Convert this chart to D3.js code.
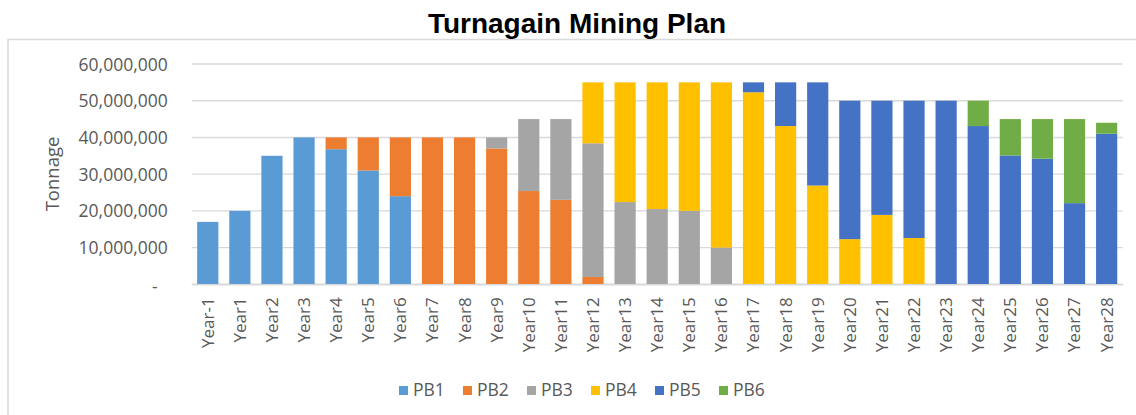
<!DOCTYPE html>
<html>
<head>
<meta charset="utf-8">
<script src="https://cdn.jsdelivr.net/npm/d3@7"></script>
<style>
  body { margin: 0; background: #fff; }
  svg text { font-family: "Open Sans", "Liberation Sans", sans-serif; }
</style>
</head>
<body>
<div id="chart"></div>
<script>
'use strict';

// years along the x axis
var years = ["Year-1", "Year1", "Year2", "Year3", "Year4", "Year5", "Year6", "Year7", "Year8", "Year9",
    "Year10", "Year11", "Year12", "Year13", "Year14", "Year15", "Year16", "Year17", "Year18", "Year19",
    "Year20", "Year21", "Year22", "Year23", "Year24", "Year25", "Year26", "Year27", "Year28"];

// tonnage per pit phase
var pb1 = [17000000, 20000000, 35000000, 40000000, 36800000, 31000000, 24000000, 0, 0, 0,
    0, 0, 0, 0, 0, 0, 0, 0, 0, 0, 0, 0, 0, 0, 0, 0, 0, 0, 0];
var pb2 = [0, 0, 0, 0, 3200000, 9000000, 16000000, 40000000, 40000000, 37000000,
    25400000, 23000000, 2000000, 0, 0, 0, 0, 0, 0, 0, 0, 0, 0, 0, 0, 0, 0, 0, 0];
var pb3 = [0, 0, 0, 0, 0, 0, 0, 0, 0, 3000000,
    19600000, 22000000, 36400000, 22400000, 20500000, 20000000, 10000000, 0, 0, 0,
    0, 0, 0, 0, 0, 0, 0, 0, 0];
var pb4 = [0, 0, 0, 0, 0, 0, 0, 0, 0, 0,
    0, 0, 16600000, 32600000, 34500000, 35000000, 45000000, 52300000, 43100000, 26900000,
    12300000, 18900000, 12600000, 0, 0, 0, 0, 0, 0];
var pb5 = [0, 0, 0, 0, 0, 0, 0, 0, 0, 0,
    0, 0, 0, 0, 0, 0, 0, 2700000, 11900000, 28100000,
    37700000, 31100000, 37400000, 50000000, 43100000, 35100000, 34200000, 22100000, 41000000];
var pb6 = [0, 0, 0, 0, 0, 0, 0, 0, 0, 0,
    0, 0, 0, 0, 0, 0, 0, 0, 0, 0,
    0, 0, 0, 0, 6900000, 9900000, 10800000, 22900000, 3000000];

var seriesNames = ["PB1", "PB2", "PB3", "PB4", "PB5", "PB6"];
var seriesColors = ["#5B9BD5", "#ED7D31", "#A5A5A5", "#FFC000", "#4472C4", "#70AD47"];
var yTicks = [0, 10000000, 20000000, 30000000, 40000000, 50000000, 60000000];

var width = 1136, height = 415;
var plot = {left: 191.7, right: 1122.7, top: 64, bottom: 284.3};

// build rows for d3.stack
var series = [pb1, pb2, pb3, pb4, pb5, pb6];
var rows = years.map(function(y, i) {
    var r = {year: y};
    seriesNames.forEach(function(n, k) { r[n] = series[k][i]; });
    return r;
});
var stacked = d3.stack().keys(seriesNames)(rows);

var svg = d3.select("#chart").append("svg")
    .attr("width", width)
    .attr("height", height);

// chart frame (only left + top visible in the crop)
svg.append("rect")
    .attr("x", 8).attr("y", 39.5)
    .attr("width", 1140).attr("height", 400)
    .attr("fill", "none")
    .attr("stroke", "#d9d9d9")
    .attr("stroke-width", 1.5);

var x = d3.scaleBand()
    .domain(years)
    .range([plot.left, plot.right])
    .paddingInner(0.34)
    .paddingOuter(0.17);

var y = d3.scaleLinear()
    .domain([0, 60000000])
    .range([plot.bottom, plot.top]);

// gridlines
svg.append("g")
    .selectAll("line")
    .data(yTicks)
    .join("line")
    .attr("x1", plot.left).attr("x2", plot.right)
    .attr("y1", function(d) { return y(d); })
    .attr("y2", function(d) { return y(d); })
    .attr("stroke", "#d9d9d9")
    .attr("stroke-width", 1.4);

// y axis labels
var fmt = d3.format(",");
var yAxis = svg.append("g")
    .attr("transform", "translate(" + (plot.left - 24) + ",0)")
    .call(d3.axisLeft(y).tickValues(yTicks).tickSize(0).tickPadding(0)
        .tickFormat(function(d) { return d === 0 ? "-" : fmt(d); }));
yAxis.select(".domain").remove();
yAxis.selectAll("text")
    .attr("fill", "#595959")
    .style("font-size", "17.5px")
    .attr("x", function(d) { return d === 0 ? -10 : 0; })
    .attr("dy", function(d) { return d === 0 ? "0.45em" : "0.35em"; });

// bars
svg.append("g")
    .selectAll("g")
    .data(stacked)
    .join("g")
    .attr("fill", function(d, i) { return seriesColors[i]; })
    .selectAll("rect")
    .data(function(d) { return d.filter(function(p) { return p[1] - p[0] > 0; }); })
    .join("rect")
    .attr("x", function(d) { return x(d.data.year); })
    .attr("width", x.bandwidth())
    .attr("y", function(d) { return y(d[1]); })
    .attr("height", function(d) { return y(d[0]) - y(d[1]); });

// x axis
var xAxis = svg.append("g")
    .attr("transform", "translate(0," + plot.bottom + ")")
    .call(d3.axisBottom(x).tickSize(0).tickPadding(0));
xAxis.select(".domain")
    .attr("stroke", "#d9d9d9")
    .attr("stroke-width", 1.4);
xAxis.selectAll("text")
    .attr("fill", "#595959")
    .style("font-size", "17px")
    .attr("text-anchor", "end")
    .attr("transform", "rotate(-90)")
    .attr("x", -13)
    .attr("y", 0)
    .attr("dy", "0.35em");

// axis title
svg.append("text")
    .attr("transform", "translate(59,174) rotate(-90)")
    .attr("text-anchor", "middle")
    .attr("fill", "#595959")
    .style("font-size", "18.5px")
    .text("Tonnage");

// chart title
svg.append("text")
    .attr("x", 577).attr("y", 33)
    .attr("text-anchor", "middle")
    .attr("fill", "#000")
    .style("font-family", "'Liberation Sans', Arial, sans-serif")
    .style("font-size", "28px")
    .style("font-weight", "bold")
    .text("Turnagain Mining Plan");

// legend
var legend = svg.append("g")
    .selectAll("g")
    .data(seriesNames)
    .join("g")
    .attr("transform", function(d, i) { return "translate(" + (399 + i * 64) + ",386)"; });
legend.append("rect")
    .attr("width", 9).attr("height", 9)
    .attr("fill", function(d, i) { return seriesColors[i]; });
legend.append("text")
    .attr("x", 14).attr("y", 10)
    .attr("fill", "#595959")
    .style("font-size", "17.5px")
    .text(function(d) { return d; });
</script>
</body>
</html>
